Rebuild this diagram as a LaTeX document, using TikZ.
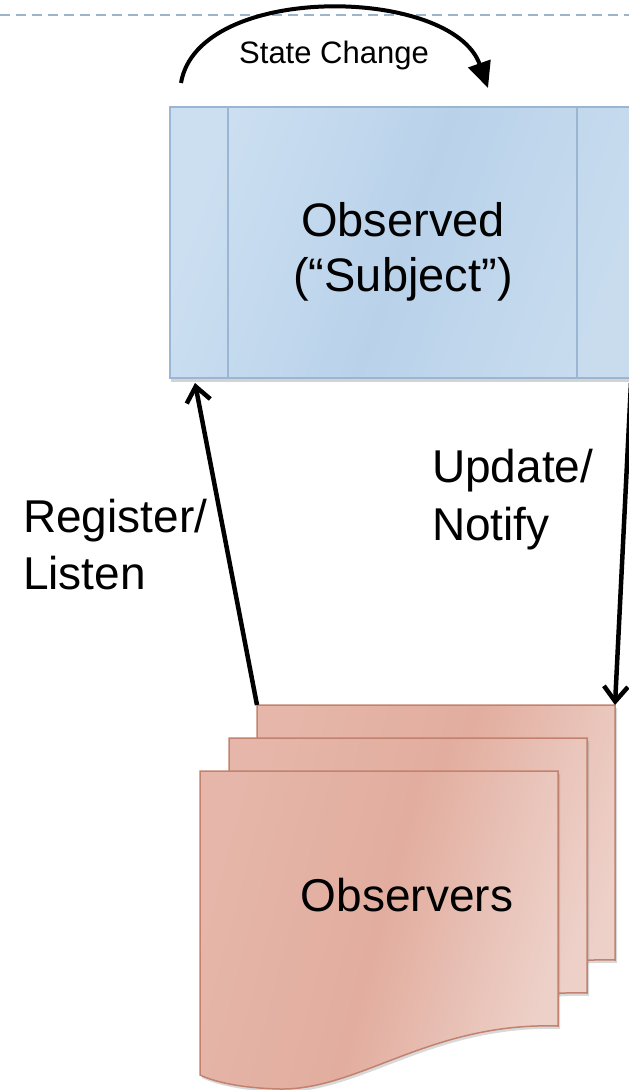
\documentclass[tikz,border=0pt]{standalone}
\usepackage{fontspec}
\setmainfont{Liberation Sans}
\usetikzlibrary{arrows.meta,shadows}

\definecolor{rulecol}{HTML}{9DB4CB}
\definecolor{subjline}{HTML}{9BB6D2}
\definecolor{subjA}{HTML}{CCDFF1}
\definecolor{subjB}{HTML}{B9D2EA}
\definecolor{subjC}{HTML}{C8DCEE}
\definecolor{obsline}{HTML}{C3826F}
\definecolor{obsA}{HTML}{E5B6A9}
\definecolor{obsB}{HTML}{E2AD9E}
\definecolor{obsC}{HTML}{EDD0C8}

\tikzset{
  dashrule/.style={draw=rulecol, line width=1.5pt, dash pattern=on 10pt off 6pt},
  subjectbox/.style={draw=subjline, line width=1.2pt, inner sep=0pt, outer sep=0pt,
    left color=subjA, right color=subjC, middle color=subjB, shading angle=70,
    drop shadow={shadow xshift=1pt, shadow yshift=-4pt, opacity=0.35}},
  divider/.style={draw=subjline, line width=1.2pt},
  docsheet/.style={draw=obsline, line width=1.5pt,
    left color=obsA, right color=obsC, middle color=obsB, shading angle=75,
    drop shadow={shadow xshift=2pt, shadow yshift=-3pt, opacity=0.3}},
  conn/.style={line width=4.5pt, -{Straight Barb[length=15pt,width=24pt,line width=4.5pt]}},
  arcconn/.style={line width=4pt, -{Triangle[length=26pt,width=23pt]}},
  biglabel/.style={inner sep=0pt, font=\fontsize{46}{57}\selectfont},
}

% one sheet of the observer stack; #1 is its offset from the front sheet
\newcommand\observersheet[1]{%
  \path[docsheet, shift={#1}]
    (200,771) -- (558,771) -- (558,1026)
    .. controls (430,1022) and (360,1090) .. (280,1089)
    .. controls (240,1088) and (215,1082) .. (200,1075) -- cycle;
}

\begin{document}
\begin{tikzpicture}[x=1pt, y=-1pt]
\useasboundingbox (0,0) rectangle (629,1090);
\clip (0,0) rectangle (629,1090);

% dashed rule along the top
\coordinate (rule-l) at (0,15);
\coordinate (rule-r) at (629,15);
\draw[dashrule] (rule-l) -- (rule-r);

% the observed subject
\node[subjectbox, anchor=north west, minimum width=470pt, minimum height=271pt]
  (subject) at (170,107) {};
\coordinate (div-l-top) at (228,107);
\coordinate (div-l-bot) at (228,378);
\coordinate (div-r-top) at (577,107);
\coordinate (div-r-bot) at (577,378);
\draw[divider] (div-l-top) -- (div-l-bot);
\draw[divider] (div-r-top) -- (div-r-bot);
\node[biglabel, align=center, font=\fontsize{47}{55}\selectfont]
  (subject-text) at (403,252) {Observed\\(“Subject”)};

% stack of observers
\observersheet{(57,-66)}
\observersheet{(29,-33)}
\observersheet{(0,0)}
\node[biglabel] (observers-text) at (407,895) {Observers};
\coordinate (back-nw) at (257,705);
\coordinate (back-ne) at (615,705);

% state change loop above the subject
\coordinate (sc-start) at (181,83);
\coordinate (sc-end) at (488,88);
\draw[arcconn] (sc-start) .. controls (198,-18) and (452,-14) .. (sc-end);
\node[inner sep=0pt, font=\fontsize{31}{36}\selectfont] (sc-text) at (334,55) {State Change};

% register and notify connectors
\coordinate (subject-in) at (195,383);
\coordinate (subject-out) at (631,383);
\draw[conn] (back-nw) -- (subject-in);
\draw[conn] (subject-out) -- (back-ne);

\node[biglabel, anchor=west, align=left] (register-text) at (23,545) {Register/\\Listen};
\node[biglabel, anchor=west, align=left, font=\fontsize{46}{58}\selectfont]
  (update-text) at (432,500) {Update/\\Notify};
\end{tikzpicture}
\end{document}
